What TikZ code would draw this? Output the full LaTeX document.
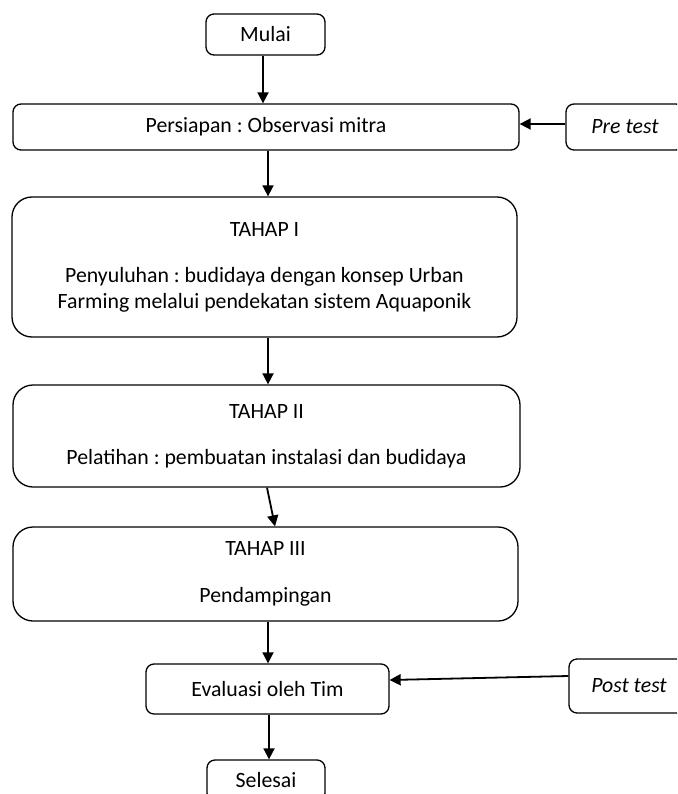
\documentclass[tikz,border=0pt]{standalone}
\usepackage{fontspec}
\setmainfont{Carlito}
\usetikzlibrary{arrows.meta}
\frenchspacing

\begin{document}
\begin{tikzpicture}[x=1pt, y=-1pt,
                    >={Triangle[length=11pt, width=11pt]},
                    font=\fontsize{21.8}{26}\selectfont,
                    box/.style={draw, line width=1.3pt, rectangle, rounded corners=8pt, align=center, inner sep=0pt},
                    stage/.style={box, rounded corners=20pt},
                    ar/.style={->, line width=1.8pt}]

\useasboundingbox (0,0) rectangle (677,794);
\clip (0,0) rectangle (677,794);

\node [box, minimum width=119pt, minimum height=41pt] (mulai) at (265.5,34.5) {Mulai};
\node [box, minimum width=506pt, minimum height=46pt] (prep) at (266,127) {Persiapan : Observasi mitra};
\node [box, minimum width=118pt, minimum height=46pt] (pre) at (625,127) {\itshape Pre test};

\node [stage, minimum width=505pt, minimum height=140pt] (t1) at (264.5,267)
      {TAHAP I\\[20pt]Penyuluhan : budidaya dengan konsep Urban\\Farming melalui pendekatan sistem Aquaponik};
\node [stage, minimum width=507pt, minimum height=102pt] (t2) at (266.5,436)
      {TAHAP II\\[20pt]Pelatihan : pembuatan instalasi dan budidaya};
\node [stage, minimum width=505pt, minimum height=94pt] (t3) at (265.5,574)
      {TAHAP III\\[21pt]Pendampingan};

\node [box, minimum width=243pt, minimum height=50pt] (eval) at (267.5,689) {Evaluasi oleh Tim};
\node [box, minimum width=120pt, minimum height=54pt] (post) at (629,686) {\itshape Post test};
\node [box, minimum width=118pt, minimum height=41pt] (selesai) at (266,780.5) {Selesai};

\draw [ar] ([xshift=-2.5pt]mulai.south) -- ([xshift=-2.5pt]mulai.south |- prep.north);
\draw [ar] ([yshift=3pt]pre.west) -- ([yshift=3pt]prep.east);
\draw [ar] ([xshift=2pt]prep.south) -- ([xshift=2pt]prep.south |- t1.north);
\draw [ar] ([xshift=3.5pt]t1.south) -- ([xshift=3.5pt]t1.south |- t2.north);
\draw [ar] ([xshift=0.5pt]t2.south) -- ([xshift=9.5pt]t3.north);
\draw [ar] ([xshift=2.5pt]t3.south) -- ([xshift=2.5pt]t3.south |- eval.north);
\draw [ar] ([yshift=10pt]post.west) -- ([yshift=9pt]eval.east);
\draw [ar] ([xshift=1.5pt]eval.south) -- ([xshift=1.5pt]eval.south |- selesai.north);
\end{tikzpicture}
\end{document}
